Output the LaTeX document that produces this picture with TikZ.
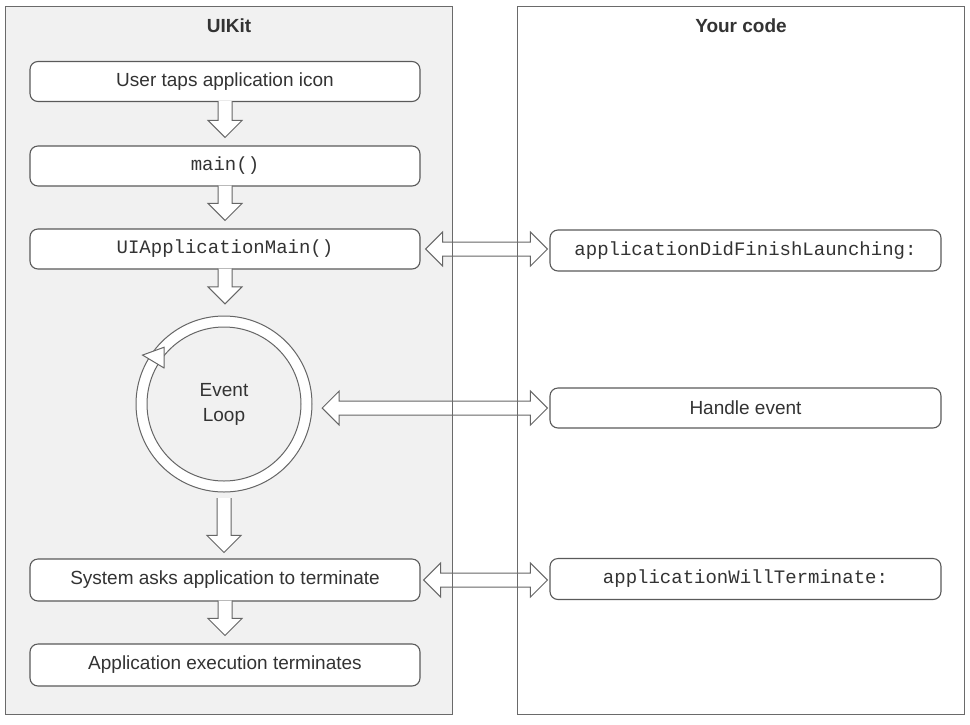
\documentclass[tikz,border=0pt]{standalone}
\usepackage{fontspec}
\setmainfont{Liberation Sans}
\setmonofont{Liberation Mono}
\usetikzlibrary{calc}
\definecolor{panelfill}{HTML}{F1F1F1}
\definecolor{panelline}{HTML}{6A6A6A}
\definecolor{boxline}{HTML}{5A5A5A}
\definecolor{arrline}{HTML}{666666}
\definecolor{txt}{HTML}{333333}
\newcommand\downblk[2]{%
  \path[blk] let \p1=(#1), \p2=(#2) in
   (\x1-7pt,\y1) -- (\x1-7pt,\y2+17pt) -- (\x1-17pt,\y2+17pt) -- (\x1,\y2)
   -- (\x1+17pt,\y2+17pt) -- (\x1+7pt,\y2+17pt) -- (\x1+7pt,\y1);}
\newcommand\dblk[2]{%
  \path[blk] let \p1=(#1), \p2=(#2) in
   (\x1,\y1) -- (\x1+17pt,\y1+17pt) -- (\x1+17pt,\y1+7pt) -- (\x2-17pt,\y1+7pt)
   -- (\x2-17pt,\y1+17pt) -- (\x2,\y1) -- (\x2-17pt,\y1-17pt) -- (\x2-17pt,\y1-7pt)
   -- (\x1+17pt,\y1-7pt) -- (\x1+17pt,\y1-17pt) -- cycle;}
\tikzset{
  panel/.style={minimum width=446pt, minimum height=707pt, inner sep=0pt},
  paneledge/.style={draw=panelline, line width=1.2pt},
  title/.style={font=\bfseries\fontsize{19}{22}\selectfont, text=txt},
  box/.style={draw=boxline, line width=1.1pt, rounded corners=8pt, fill=white,
    minimum width=390pt, minimum height=40pt, inner sep=0pt,
    font=\fontsize{19}{22}\selectfont, text=txt},
  codebox/.style={box, font=\ttfamily\fontsize{19}{22}\selectfont},
  blk/.style={draw=arrline, line width=1pt, fill=white, line join=miter},
}
\begin{document}
\begin{tikzpicture}[x=1pt,y=-1pt]
\useasboundingbox (0,0) rectangle (970,724);
% panels
\node[panel, fill=panelfill] (uikit) at (229,360.5) {};
\node[panel, fill=white] (yours) at (741,360.5) {};
\node[title] (t1) at (229,26) {UIKit};
\node[title] (t2) at (741,26) {Your code};
% left column
\node[box] (b1) at (225,81.5) {User taps application icon};
\node[codebox] (b2) at (225,166) {main()};
\node[codebox] (b3) at (225,249) {UIApplicationMain()};
\node[circle, minimum size=176pt, inner sep=0pt] (ring) at (224,404) {};
\node[box, minimum height=42pt] (b4) at (225,580) {System asks application to terminate};
\node[box, minimum height=42pt] (b5) at (225,665) {Application execution terminates};
% right column
\node[codebox, minimum width=391pt, minimum height=41pt] (r1) at (745.5,250.5) {applicationDidFinishLaunching:};
\node[box, minimum width=391pt] (r2) at (745.5,408) {Handle event};
\node[codebox, minimum width=391pt, minimum height=41pt] (r3) at (745.5,579) {applicationWillTerminate:};
% event loop ring
\path[draw=arrline, line width=1pt, fill=white, even odd rule]
  (ring.center) circle[radius=88pt] (ring.center) circle[radius=77pt];
\path[blk] ($(ring.center)+(149:70pt)$) -- ($(ring.center)+(136.5:82.5pt)$)
  -- ($(ring.center)+(149:95pt)$) -- cycle;
\node[align=center, font=\fontsize{19}{25}\selectfont, text=txt] (lbl) at (ring.center) {Event\\Loop};
% down arrows
\downblk{$(b1.south)+(0,-1)$}{$(b2.north)+(0,-8)$}
\downblk{$(b2.south)+(0,-1)$}{$(b3.north)+(0,-8)$}
\downblk{$(b3.south)+(0,-1)$}{$(ring.north)+(0,-12)$}
\downblk{$(ring.south)+(0,6)$}{$(b4.north)+(0,-6)$}
\downblk{$(b4.south)+(0,-1)$}{$(b5.north)+(0,-8)$}
% double arrows
\dblk{$(b3.east)+(5,0)$}{$(r1.west)+(-2,0)$}
\dblk{$(ring.east)+(10,4)$}{$(r2.west)+(-2,0)$}
\dblk{$(b4.east)+(3,0)$}{$(r3.west)+(-2,0)$}
% panel borders on top
\draw[paneledge] (uikit.north west) rectangle (uikit.south east);
\draw[paneledge] (yours.north west) rectangle (yours.south east);
\end{tikzpicture}
\end{document}
